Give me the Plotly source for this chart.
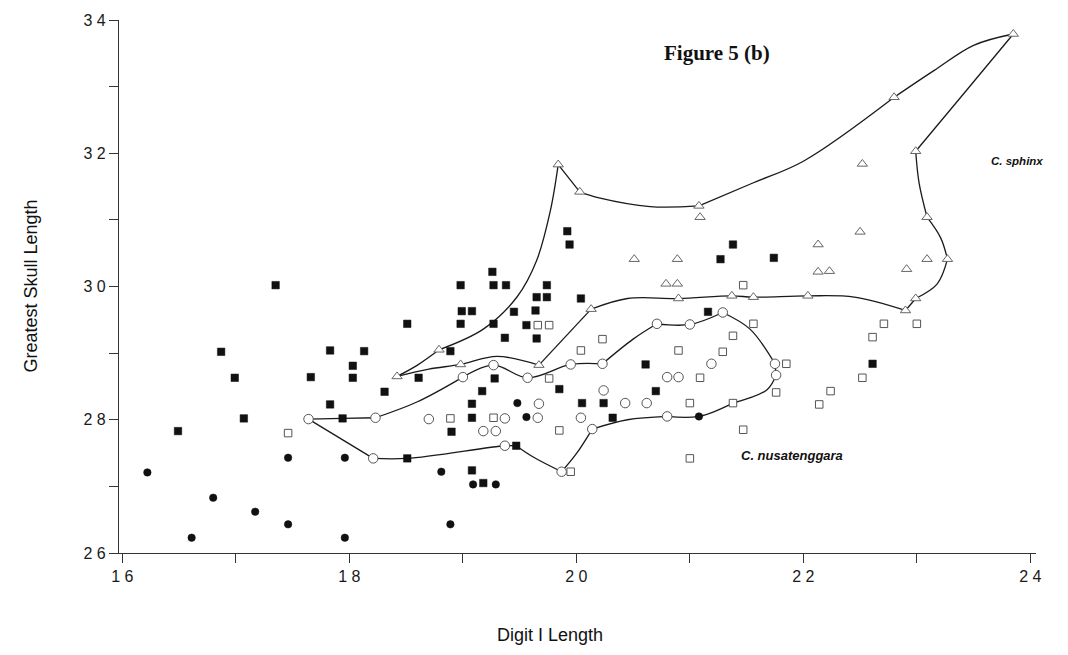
import plotly.graph_objects as go

# ---- specimen measurements (Digit I length vs greatest skull length) ----
filled_circle_x = [16.22, 16.61, 16.80, 17.17, 17.46, 17.46, 17.96, 17.96, 18.81, 18.89,
                   19.09, 19.29, 19.48, 19.56, 21.08]
filled_circle_y = [27.21, 26.23, 26.83, 26.62, 27.43, 26.43, 27.43, 26.23, 27.22, 26.43,
                   27.03, 27.03, 28.25, 28.04, 28.05]

filled_square_x = [16.49, 16.87, 16.99, 17.07, 17.35, 17.66, 17.83, 17.83, 17.94, 18.03,
                   18.03, 18.13, 18.31, 18.51, 18.51, 18.61, 18.89, 18.90, 18.98, 18.98,
                   18.99, 19.08, 19.08, 19.08, 19.08, 19.17, 19.18, 19.26, 19.27, 19.27,
                   19.28, 19.37, 19.38, 19.45, 19.47, 19.56, 19.64, 19.65, 19.65, 19.74,
                   19.74, 19.85, 19.92, 19.94, 20.04, 20.05, 20.24, 20.32, 20.61, 20.70,
                   21.16, 21.27, 21.38, 21.74, 22.61]
filled_square_y = [27.83, 29.02, 28.63, 28.02, 30.02, 28.64, 29.04, 28.23, 28.02, 28.81,
                   28.63, 29.03, 28.42, 29.44, 27.42, 28.63, 29.03, 27.82, 30.02, 29.44,
                   29.63, 29.63, 28.24, 28.03, 27.24, 28.43, 27.05, 30.22, 30.02, 29.44,
                   28.62, 29.23, 30.02, 29.62, 27.61, 29.42, 29.64, 29.84, 29.22, 30.02,
                   29.84, 28.46, 30.83, 30.63, 29.82, 28.25, 28.25, 28.03, 28.83, 28.43,
                   29.62, 30.41, 30.63, 30.43, 28.84]

open_square_x = [17.46, 18.89, 19.27, 19.66, 19.76, 19.76, 19.85, 19.95, 20.04, 20.23,
                 20.90, 21.00, 21.00, 21.09, 21.29, 21.38, 21.38, 21.47, 21.47, 21.56,
                 21.76, 21.85, 22.14, 22.24, 22.52, 22.61, 22.71, 23.00]
open_square_y = [27.80, 28.02, 28.03, 29.42, 29.42, 28.62, 27.84, 27.22, 29.04, 29.21,
                 29.04, 28.25, 27.42, 28.63, 29.02, 29.26, 28.25, 30.02, 27.85, 29.44,
                 28.41, 28.84, 28.23, 28.43, 28.63, 29.24, 29.44, 29.44]

open_circle_x = [17.64, 18.23, 18.21, 18.70, 19.00, 19.27, 19.37, 19.18, 19.29, 19.37,
                 19.57, 19.67, 19.66, 19.87, 19.95, 20.04, 20.14, 20.23, 20.24, 20.43,
                 20.62, 20.71, 20.80, 20.90, 20.80, 21.00, 21.19, 21.29, 21.75, 21.76]
open_circle_y = [28.01, 28.03, 27.42, 28.01, 28.64, 28.82, 28.02, 27.83, 27.83, 27.61,
                 28.63, 28.24, 28.03, 27.22, 28.83, 28.03, 27.86, 28.84, 28.44, 28.25,
                 28.25, 29.44, 28.64, 28.64, 28.05, 29.43, 28.84, 29.61, 28.84, 28.67]

open_triangle_x = [18.42, 18.79, 18.98, 19.67, 19.84, 20.03, 20.13, 20.51, 20.79, 20.89,
                   20.89, 20.90, 21.08, 21.09, 21.37, 21.56, 22.04, 22.13, 22.13, 22.23,
                   22.50, 22.52, 22.80, 22.90, 22.91, 22.99, 22.99, 23.09, 23.09, 23.27,
                   23.85]
open_triangle_y = [28.65, 29.05, 28.83, 28.82, 31.83, 31.42, 29.66, 30.41, 30.04, 30.04,
                   30.41, 29.82, 31.21, 31.04, 29.86, 29.84, 29.86, 30.63, 30.22, 30.23,
                   30.82, 31.84, 32.84, 29.64, 30.26, 29.82, 32.03, 31.04, 30.41, 30.41,
                   33.79]

# ---- hand-traced outlines (each inner list is one smooth stroke) ----
sphinx_outline_x = [
    [18.79, 18.60, 18.42],
    [18.42, 18.70, 18.98, 19.30, 19.67],
    [19.67, 20.13],
    [20.13, 20.45, 20.90, 21.37, 21.56, 22.04, 22.45, 22.90],
    [22.90, 22.99],
    [22.99, 23.18, 23.27],
    [23.27, 23.21, 23.09],
    [23.09, 23.02, 22.99],
    [22.99, 23.44, 23.85],
    [23.85, 23.50, 23.15, 22.80],
    [22.80, 22.00, 21.55, 21.08],
    [21.08, 20.65, 20.20, 20.03],
    [20.03, 19.84],
    [19.84, 19.77, 19.65, 19.48, 19.18, 18.79],
]
sphinx_outline_y = [
    [29.05, 28.82, 28.65],
    [28.65, 28.76, 28.83, 28.95, 28.82],
    [28.82, 29.66],
    [29.66, 29.82, 29.82, 29.86, 29.84, 29.86, 29.84, 29.64],
    [29.64, 29.82],
    [29.82, 30.04, 30.41],
    [30.41, 30.73, 31.04],
    [31.04, 31.55, 32.03],
    [32.03, 32.95, 33.79],
    [33.79, 33.62, 33.24, 32.84],
    [32.84, 31.88, 31.55, 31.21],
    [31.21, 31.20, 31.33, 31.42],
    [31.42, 31.83],
    [31.83, 31.13, 30.39, 29.85, 29.36, 29.05],
]

circle_outline_x = [
    [17.64, 17.94, 18.23],
    [18.23, 18.60, 19.00],
    [19.00, 19.27, 19.57, 19.95, 20.23],
    [20.23, 20.50, 20.71],
    [20.71, 21.00, 21.29],
    [21.29, 21.53, 21.75],
    [21.75, 21.76],
    [21.76, 21.68, 21.38],
    [21.38, 21.08, 20.80],
    [20.80, 20.45, 20.14],
    [20.14, 20.00, 19.87],
    [19.87, 19.62, 19.47],
    [19.47, 19.37, 18.51, 18.21],
    [18.21, 17.64],
]
circle_outline_y = [
    [28.01, 28.02, 28.03],
    [28.03, 28.27, 28.64],
    [28.64, 28.82, 28.63, 28.83, 28.84],
    [28.84, 29.21, 29.44],
    [29.44, 29.43, 29.61],
    [29.61, 29.36, 28.84],
    [28.84, 28.67],
    [28.67, 28.45, 28.25],
    [28.25, 28.05, 28.05],
    [28.05, 28.00, 27.86],
    [27.86, 27.49, 27.22],
    [27.22, 27.44, 27.61],
    [27.61, 27.61, 27.42, 27.42],
    [27.42, 28.01],
]

x_tick_values = [16, 17, 18, 19, 20, 21, 22, 23, 24]
x_tick_labels = ["1 6", "", "1 8", "", "2 0", "", "2 2", "", "2 4"]
y_tick_values = [26, 27, 28, 29, 30, 31, 32, 33, 34]
y_tick_labels = ["2 6", "", "2 8", "", "3 0", "", "3 2", "", "3 4"]


def join_strokes(strokes):
    out = []
    for s in strokes:
        out.extend(s)
        out.append(None)
    return out


fig = go.Figure()

for sx, sy in [(sphinx_outline_x, sphinx_outline_y), (circle_outline_x, circle_outline_y)]:
    fig.add_trace(go.Scatter(
        x=join_strokes(sx), y=join_strokes(sy), mode="lines",
        line=dict(color="#1a1a1a", width=1.3, shape="spline", smoothing=1.0),
        connectgaps=False, hoverinfo="skip", showlegend=False,
    ))

fig.add_trace(go.Scatter(
    x=open_triangle_x, y=open_triangle_y, mode="markers",
    marker=dict(symbol="triangle-up", size=9, color="white",
                line=dict(color="#666666", width=1)),
    showlegend=False,
))
fig.add_trace(go.Scatter(
    x=open_square_x, y=open_square_y, mode="markers",
    marker=dict(symbol="square", size=7.5, color="white",
                line=dict(color="#555555", width=1)),
    showlegend=False,
))
fig.add_trace(go.Scatter(
    x=open_circle_x, y=open_circle_y, mode="markers",
    marker=dict(symbol="circle", size=9.5, color="white",
                line=dict(color="#555555", width=1)),
    showlegend=False,
))
fig.add_trace(go.Scatter(
    x=filled_square_x, y=filled_square_y, mode="markers",
    marker=dict(symbol="square", size=7.5, color="#111111",
                line=dict(color="#111111", width=0.5)),
    showlegend=False,
))
fig.add_trace(go.Scatter(
    x=filled_circle_x, y=filled_circle_y, mode="markers",
    marker=dict(symbol="circle", size=7.5, color="#111111",
                line=dict(color="#111111", width=0.5)),
    showlegend=False,
))

axis_font = dict(family="Liberation Sans, Arial, sans-serif", size=16, color="#1a1a1a")

fig.update_xaxes(
    range=[15.97, 24.05], tickmode="array", tickvals=x_tick_values, ticktext=x_tick_labels,
    ticks="outside", ticklen=9, tickwidth=1, tickcolor="#333333",
    showline=True, linecolor="#333333", linewidth=1.2,
    showgrid=False, zeroline=False, tickfont=axis_font,
)
fig.update_yaxes(
    range=[26, 34], tickmode="array", tickvals=y_tick_values, ticktext=y_tick_labels,
    ticks="outside", ticklen=9, tickwidth=1, tickcolor="#333333",
    showline=True, linecolor="#333333", linewidth=1.2,
    showgrid=False, zeroline=False, tickfont=axis_font,
)

fig.update_layout(
    width=1068, height=655,
    margin=dict(l=119, r=32, t=12, b=102),
    paper_bgcolor="white", plot_bgcolor="white",
    annotations=[
        dict(text="<b>Figure 5 (b)</b>", xref="paper", yref="paper", x=0.652, y=0.939,
             xanchor="center", yanchor="middle", showarrow=False,
             font=dict(family="Liberation Serif, Times New Roman, serif", size=21, color="#111111")),
        dict(text="<b><i>C. sphinx</i></b>", x=23.88, y=31.89, xref="x", yref="y",
             showarrow=False, xanchor="center", yanchor="middle",
             font=dict(family="Liberation Sans, Arial, sans-serif", size=11.5, color="#111111")),
        dict(text="<b><i>C. nusatenggara</i></b>", x=21.90, y=27.46, xref="x", yref="y",
             showarrow=False, xanchor="center", yanchor="middle",
             font=dict(family="Liberation Sans, Arial, sans-serif", size=13, color="#111111")),
        dict(text="Digit I Length", xref="paper", yref="paper", x=0.470, y=-0.154,
             xanchor="center", yanchor="middle", showarrow=False,
             font=dict(family="Liberation Sans, Arial, sans-serif", size=18, color="#111111")),
        dict(text="Greatest Skull Length", xref="paper", yref="paper", x=-0.097, y=0.5,
             xanchor="center", yanchor="middle", showarrow=False, textangle=-90,
             font=dict(family="Liberation Sans, Arial, sans-serif", size=18, color="#111111")),
    ],
)

fig.write_html("out.html")
